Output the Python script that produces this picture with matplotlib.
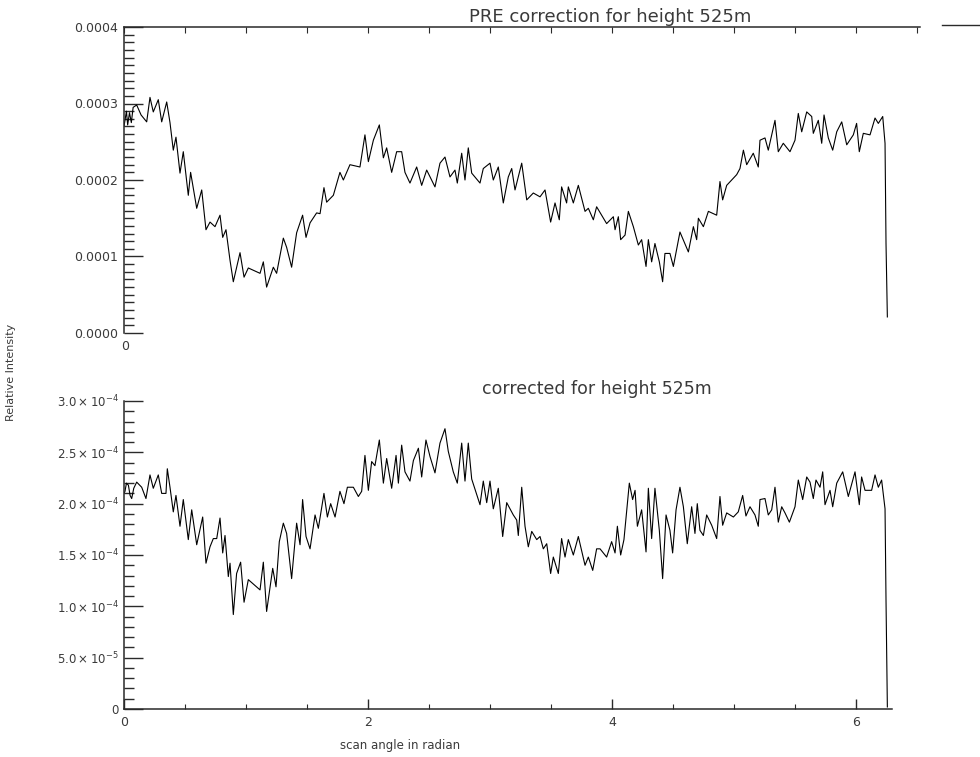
import matplotlib
matplotlib.use("Agg")
import matplotlib.pyplot as plt
from matplotlib.ticker import MultipleLocator, FixedLocator, FuncFormatter
from matplotlib.lines import Line2D
import numpy as np

# scan angle (rad) and relative intensity (units of 1e-4) before correction
pre_angle = [0.000, 0.008, 0.020, 0.030, 0.045, 0.060, 0.075, 0.104, 0.140, 0.186,
             0.213, 0.240, 0.281, 0.309, 0.350, 0.377, 0.404, 0.426, 0.459, 0.486,
             0.527, 0.546, 0.596, 0.637, 0.672, 0.705, 0.746, 0.787, 0.809, 0.836,
             0.869, 0.896, 0.951, 0.984, 1.019, 1.115, 1.142, 1.169, 1.224, 1.251,
             1.306, 1.333, 1.374, 1.415, 1.464, 1.492, 1.525, 1.579, 1.607, 1.639,
             1.661, 1.716, 1.770, 1.798, 1.852, 1.934, 1.975, 2.003, 2.044, 2.093,
             2.126, 2.153, 2.194, 2.235, 2.276, 2.303, 2.344, 2.399, 2.440, 2.481,
             2.549, 2.590, 2.631, 2.672, 2.713, 2.732, 2.768, 2.795, 2.822, 2.850,
             2.918, 2.945, 3.000, 3.027, 3.068, 3.109, 3.150, 3.178, 3.205, 3.260,
             3.301, 3.355, 3.410, 3.451, 3.497, 3.533, 3.568, 3.587, 3.628, 3.642,
             3.683, 3.724, 3.779, 3.806, 3.847, 3.874, 3.956, 4.011, 4.025, 4.052,
             4.071, 4.107, 4.134, 4.175, 4.216, 4.243, 4.279, 4.298, 4.325, 4.352,
             4.388, 4.415, 4.434, 4.475, 4.503, 4.557, 4.626, 4.667, 4.694, 4.708,
             4.749, 4.790, 4.858, 4.885, 4.907, 4.940, 5.022, 5.049, 5.077, 5.104,
             5.158, 5.199, 5.213, 5.254, 5.281, 5.336, 5.363, 5.404, 5.459, 5.500,
             5.527, 5.555, 5.596, 5.637, 5.650, 5.691, 5.719, 5.738, 5.773, 5.809,
             5.842, 5.883, 5.924, 5.978, 6.005, 6.027, 6.060, 6.115, 6.156, 6.183,
             6.219, 6.238, 6.246, 6.257]
pre_int = [2.70, 2.78, 2.90, 2.72, 2.88, 2.75, 2.95, 2.98, 2.85, 2.76,
           3.08, 2.89, 3.05, 2.76, 3.02, 2.75, 2.39, 2.56, 2.09, 2.37,
           1.80, 2.10, 1.63, 1.87, 1.35, 1.45, 1.39, 1.54, 1.25, 1.35,
           0.95, 0.67, 1.05, 0.73, 0.85, 0.78, 0.93, 0.60, 0.86, 0.78,
           1.24, 1.12, 0.86, 1.31, 1.54, 1.25, 1.44, 1.57, 1.56, 1.90,
           1.71, 1.80, 2.10, 2.00, 2.20, 2.17, 2.59, 2.24, 2.52, 2.72,
           2.29, 2.42, 2.10, 2.37, 2.37, 2.10, 1.96, 2.17, 1.93, 2.13,
           1.91, 2.22, 2.30, 2.04, 2.13, 1.96, 2.35, 2.00, 2.42, 2.09,
           1.96, 2.15, 2.22, 2.00, 2.17, 1.70, 2.04, 2.15, 1.87, 2.22,
           1.74, 1.83, 1.78, 1.87, 1.45, 1.70, 1.48, 1.91, 1.70, 1.91,
           1.70, 1.93, 1.59, 1.63, 1.48, 1.65, 1.43, 1.52, 1.35, 1.52,
           1.22, 1.28, 1.59, 1.39, 1.15, 1.22, 0.87, 1.22, 0.93, 1.17,
           0.93, 0.67, 1.04, 1.04, 0.87, 1.32, 1.06, 1.39, 1.22, 1.50,
           1.39, 1.59, 1.54, 1.98, 1.74, 1.93, 2.07, 2.15, 2.39, 2.20,
           2.35, 2.17, 2.52, 2.55, 2.39, 2.78, 2.37, 2.48, 2.37, 2.52,
           2.87, 2.63, 2.89, 2.83, 2.61, 2.78, 2.48, 2.85, 2.55, 2.39,
           2.63, 2.76, 2.46, 2.59, 2.74, 2.37, 2.61, 2.59, 2.81, 2.74,
           2.83, 2.48, 1.17, 0.21]

# same scan after the height correction
cor_angle = [0.000, 0.008, 0.020, 0.036, 0.050, 0.063, 0.080, 0.104, 0.145, 0.180,
             0.213, 0.240, 0.281, 0.309, 0.344, 0.355, 0.377, 0.404, 0.426, 0.459,
             0.486, 0.527, 0.555, 0.596, 0.645, 0.672, 0.705, 0.732, 0.760, 0.787,
             0.809, 0.828, 0.855, 0.869, 0.896, 0.923, 0.956, 0.984, 1.019, 1.115,
             1.142, 1.169, 1.219, 1.246, 1.273, 1.306, 1.333, 1.374, 1.415, 1.443,
             1.464, 1.492, 1.525, 1.566, 1.593, 1.639, 1.667, 1.694, 1.730, 1.770,
             1.803, 1.831, 1.880, 1.921, 1.948, 1.975, 2.003, 2.030, 2.057, 2.093,
             2.126, 2.153, 2.194, 2.230, 2.249, 2.276, 2.303, 2.344, 2.372, 2.413,
             2.440, 2.475, 2.508, 2.549, 2.590, 2.631, 2.658, 2.699, 2.732, 2.768,
             2.795, 2.822, 2.850, 2.918, 2.945, 2.973, 3.000, 3.027, 3.068, 3.104,
             3.137, 3.191, 3.219, 3.232, 3.260, 3.287, 3.314, 3.342, 3.383, 3.410,
             3.437, 3.465, 3.497, 3.519, 3.560, 3.587, 3.615, 3.642, 3.683, 3.724,
             3.779, 3.806, 3.842, 3.874, 3.902, 3.956, 3.997, 4.025, 4.044, 4.071,
             4.098, 4.142, 4.169, 4.189, 4.208, 4.243, 4.279, 4.298, 4.325, 4.352,
             4.388, 4.415, 4.443, 4.475, 4.497, 4.525, 4.557, 4.585, 4.617, 4.653,
             4.680, 4.699, 4.721, 4.749, 4.776, 4.817, 4.858, 4.885, 4.907, 4.940,
             4.995, 5.035, 5.071, 5.098, 5.131, 5.172, 5.199, 5.213, 5.254, 5.281,
             5.309, 5.336, 5.363, 5.391, 5.418, 5.454, 5.500, 5.527, 5.563, 5.596,
             5.623, 5.650, 5.672, 5.705, 5.727, 5.746, 5.787, 5.809, 5.842, 5.891,
             5.937, 5.992, 6.027, 6.046, 6.074, 6.128, 6.156, 6.183, 6.210, 6.238,
             6.246, 6.257]
cor_int = [2.10, 2.12, 2.20, 2.18, 2.08, 2.05, 2.15, 2.21, 2.16, 2.05,
           2.28, 2.15, 2.28, 2.10, 2.10, 2.34, 2.16, 1.92, 2.08, 1.78,
           2.04, 1.65, 1.94, 1.60, 1.87, 1.42, 1.58, 1.66, 1.66, 1.86,
           1.52, 1.69, 1.29, 1.42, 0.92, 1.32, 1.43, 1.04, 1.26, 1.16,
           1.43, 0.95, 1.37, 1.19, 1.63, 1.81, 1.71, 1.27, 1.81, 1.60,
           2.04, 1.68, 1.56, 1.89, 1.76, 2.10, 1.87, 2.00, 1.87, 2.12,
           2.00, 2.16, 2.16, 2.07, 2.12, 2.47, 2.13, 2.41, 2.37, 2.62,
           2.20, 2.44, 2.15, 2.47, 2.20, 2.57, 2.31, 2.22, 2.42, 2.54,
           2.26, 2.62, 2.46, 2.30, 2.59, 2.73, 2.51, 2.31, 2.20, 2.59,
           2.22, 2.59, 2.24, 1.99, 2.22, 2.01, 2.22, 1.95, 2.15, 1.68,
           2.01, 1.89, 1.84, 1.69, 2.16, 1.78, 1.58, 1.73, 1.65, 1.68,
           1.56, 1.61, 1.32, 1.48, 1.32, 1.66, 1.48, 1.65, 1.50, 1.68,
           1.40, 1.48, 1.35, 1.56, 1.56, 1.48, 1.63, 1.52, 1.78, 1.50,
           1.65, 2.20, 2.04, 2.13, 1.78, 1.94, 1.53, 2.15, 1.66, 2.15,
           1.74, 1.27, 1.89, 1.74, 1.52, 1.94, 2.16, 1.97, 1.61, 1.97,
           1.71, 2.00, 1.74, 1.69, 1.89, 1.79, 1.66, 2.07, 1.79, 1.91,
           1.87, 1.92, 2.08, 1.88, 1.97, 1.89, 1.78, 2.04, 2.05, 1.89,
           1.94, 2.16, 1.82, 1.97, 1.91, 1.82, 1.97, 2.23, 2.04, 2.26,
           2.21, 2.05, 2.23, 2.16, 2.31, 1.99, 2.13, 1.97, 2.20, 2.31,
           2.07, 2.31, 1.99, 2.26, 2.13, 2.13, 2.28, 2.16, 2.23, 1.95,
           1.06, 0.02]

pre_ticks = [0.0, 1e-4, 2e-4, 3e-4, 4e-4]
cor_ticks = [0.0, 5e-5, 1e-4, 1.5e-4, 2e-4, 2.5e-4, 3e-4]
cor_labels = ['0', r'$5.0\times10^{-5}$', r'$1.0\times10^{-4}$', r'$1.5\times10^{-4}$',
              r'$2.0\times10^{-4}$', r'$2.5\times10^{-4}$', r'$3.0\times10^{-4}$']
angle_ticks = [0, 2, 4, 6]

W, H = 980, 757
ink = '#2a2a2a'
txt = '#3a3a3a'

plt.rcParams['font.family'] = ['DejaVu Sans']
plt.rcParams['mathtext.fontset'] = 'dejavusans'

fig = plt.figure(figsize=(W / 100, H / 100), dpi=100)


def box(l, t, r, b):
    return [l / W, 1 - b / H, (r - l) / W, (b - t) / H]


# upper panel
ax1 = fig.add_axes(box(124, 27, 920, 333))
ax1.plot(np.array(pre_angle), np.array(pre_int) * 1e-4, color='black', lw=0.8)
ax1.set_xlim(0, 796 / 122)
ax1.set_ylim(0, 4e-4)
for s in ['right', 'bottom']:
    ax1.spines[s].set_visible(False)
for s in ['left', 'top']:
    ax1.spines[s].set_color(ink)
    ax1.spines[s].set_linewidth(1.1)
ax1.yaxis.set_major_locator(FixedLocator(pre_ticks))
ax1.yaxis.set_minor_locator(MultipleLocator(1e-5))
ax1.yaxis.set_major_formatter(FuncFormatter(lambda v, p: '%.4f' % v))
ax1.tick_params(axis='y', which='major', direction='in', length=14, width=1.0,
                color=ink, labelcolor=txt, labelsize=9, pad=4)
ax1.tick_params(axis='y', which='minor', direction='in', length=7, width=1.0, color=ink)
ax1.xaxis.set_major_locator(MultipleLocator(0.5))
ax1.xaxis.set_minor_locator(FixedLocator([]))
ax1.tick_params(axis='x', which='major', direction='in', length=4, width=0.8, color=ink,
                top=True, bottom=False, labeltop=False, labelbottom=False)
fig.text(125 / W, 1 - 346 / H, '0', ha='center', va='center', fontsize=9, color=txt)

# lower panel
ax2 = fig.add_axes(box(124, 401, 892, 709))
ax2.plot(np.array(cor_angle), np.array(cor_int) * 1e-4, color='black', lw=0.8)
ax2.set_xlim(0, 768 / 122)
ax2.set_ylim(0, 3e-4)
for s in ['right', 'top']:
    ax2.spines[s].set_visible(False)
for s in ['left', 'bottom']:
    ax2.spines[s].set_color(ink)
    ax2.spines[s].set_linewidth(1.1)
ax2.set_yticks(cor_ticks)
ax2.set_yticklabels(cor_labels)
ax2.yaxis.set_minor_locator(MultipleLocator(1e-5))
ax2.tick_params(axis='y', which='major', direction='in', length=14, width=1.0,
                color=ink, labelcolor=txt, labelsize=8.5, pad=4)
ax2.tick_params(axis='y', which='minor', direction='in', length=7, width=1.0, color=ink)
ax2.set_xticks(angle_ticks)
ax2.set_xticklabels([str(t) for t in angle_ticks])
ax2.xaxis.set_minor_locator(MultipleLocator(0.5))
ax2.tick_params(axis='x', which='major', direction='in', length=7, width=1.0,
                color=ink, labelcolor=txt, labelsize=9, pad=5)
ax2.tick_params(axis='x', which='minor', direction='in', length=3.5, width=0.8, color=ink)

# titles and axis captions
fig.text(610 / W, 1 - 17 / H, 'PRE correction for height 525m', ha='center', va='center',
         fontsize=13, color=txt)
fig.text(597 / W, 1 - 389 / H, 'corrected for height 525m', ha='center', va='center',
         fontsize=12.5, color=txt)
fig.text(11 / W, 1 - 372 / H, 'Relative Intensity', ha='center', va='center',
         rotation=90, fontsize=8, color=txt)
fig.text(400 / W, 1 - 745 / H, 'scan angle in radian', ha='center', va='center',
         fontsize=8.5, color=txt)
fig.add_artist(Line2D([942 / W, 1.0], [1 - 25 / H, 1 - 25 / H], color=ink, lw=1.0))

fig.savefig('out.png', dpi=100, facecolor='white')
